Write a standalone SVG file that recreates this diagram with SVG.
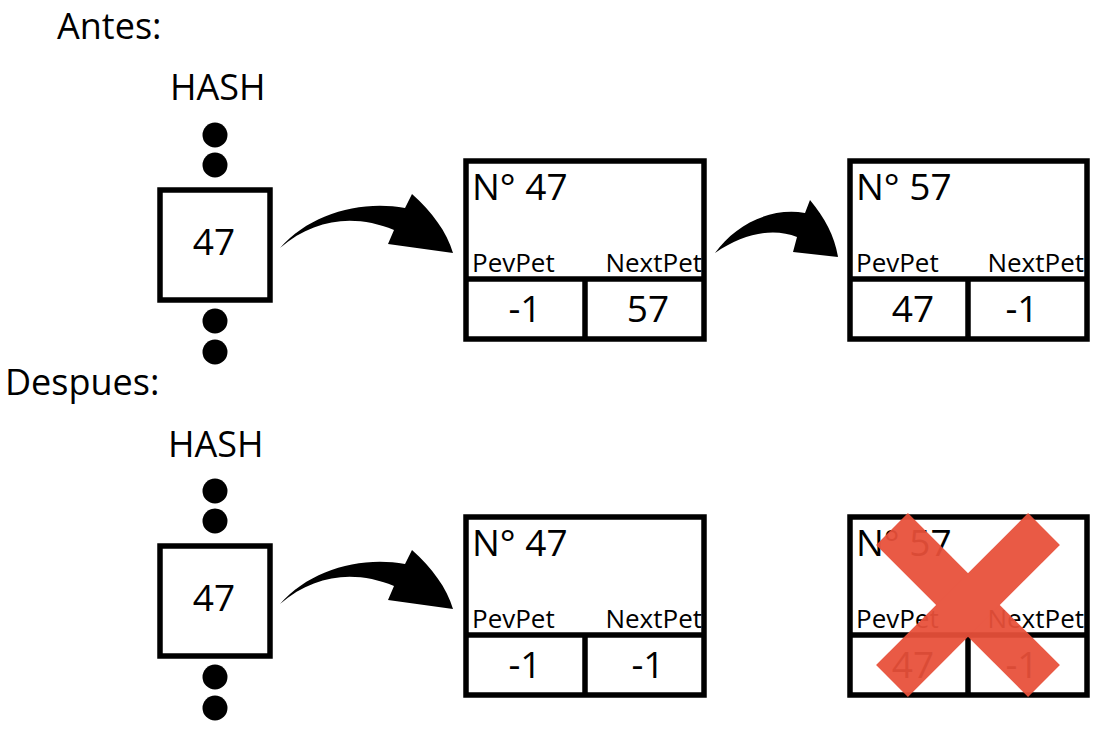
<svg xmlns="http://www.w3.org/2000/svg" width="1107" height="732" viewBox="0 0 1107 732">
<style>
text{font-family:"Open Sans","Liberation Sans",sans-serif;fill:#000}
.h{font-size:36px}
.t{font-size:37px}
.s{font-size:26px}
.m{text-anchor:middle}
.e{text-anchor:end}
.box{fill:#fff;stroke:#000;stroke-width:5.5}
.ln{stroke:#000;stroke-width:5.5;fill:none}
.arr{fill:#000}
</style>
<rect width="1107" height="732" fill="#fff"/>
<text class="h" x="57" y="39">Antes:</text>
<text class="h" x="5" y="395">Despues:</text>

<g id="hash1">
<text class="h" x="170" y="100">HASH</text>
<circle cx="215" cy="135" r="12.5"/>
<circle cx="215" cy="165" r="12.5"/>
<rect class="box" x="160" y="190" width="110" height="110"/>
<text class="t m" x="214" y="255">47</text>
<circle cx="215" cy="321" r="12.5"/>
<circle cx="215" cy="352" r="12.5"/>
</g>

<g id="node47a">
<rect class="box" x="466" y="161" width="238" height="178"/>
<line class="ln" x1="466" y1="279" x2="704" y2="279"/>
<line class="ln" x1="585" y1="279" x2="585" y2="339"/>
<text class="t" x="472" y="200">N° 47</text>
<text class="s" x="472" y="272">PevPet</text>
<text class="s e" x="702" y="272">NextPet</text>
<text class="t m" x="525" y="322">-1</text>
<text class="t m" x="648" y="322">57</text>
</g>

<g id="node57a">
<rect class="box" x="850" y="161" width="237" height="178"/>
<line class="ln" x1="850" y1="279" x2="1087" y2="279"/>
<line class="ln" x1="968" y1="279" x2="968" y2="339"/>
<text class="t" x="856" y="200">N° 57</text>
<text class="s" x="856" y="272">PevPet</text>
<text class="s e" x="1084" y="272">NextPet</text>
<text class="t m" x="913" y="322">47</text>
<text class="t m" x="1022" y="322">-1</text>
</g>

<g id="hash2">
<text class="h" x="168" y="457">HASH</text>
<circle cx="215" cy="491" r="12.5"/>
<circle cx="215" cy="521" r="12.5"/>
<rect class="box" x="160" y="546" width="110" height="110"/>
<text class="t m" x="214" y="611">47</text>
<circle cx="215" cy="677" r="12.5"/>
<circle cx="215" cy="708" r="12.5"/>
</g>

<g id="node47b">
<rect class="box" x="466" y="517" width="238" height="178"/>
<line class="ln" x1="466" y1="635" x2="704" y2="635"/>
<line class="ln" x1="585" y1="635" x2="585" y2="695"/>
<text class="t" x="472" y="556">N° 47</text>
<text class="s" x="472" y="628">PevPet</text>
<text class="s e" x="702" y="628">NextPet</text>
<text class="t m" x="525" y="678">-1</text>
<text class="t m" x="648" y="678">-1</text>
</g>

<g id="node57b">
<rect class="box" x="850" y="517" width="237" height="178"/>
<line class="ln" x1="850" y1="635" x2="1087" y2="635"/>
<line class="ln" x1="968" y1="635" x2="968" y2="695"/>
<text class="t" x="856" y="556">N° 57</text>
<text class="s" x="856" y="628">PevPet</text>
<text class="s e" x="1084" y="628">NextPet</text>
<text class="t m" x="913" y="678">47</text>
<text class="t m" x="1022" y="678">-1</text>
</g>

<g id="cross" opacity="0.94">
<line x1="892" y1="529" x2="1044" y2="681" stroke="#e8503a" stroke-width="45"/>
<line x1="1044" y1="529" x2="892" y2="681" stroke="#e8503a" stroke-width="45"/>
</g>

<g id="connectors">
<path class="arr" d="M280,248 C310,214 360,200 405,208 L412,194 C432,212 447,232 453,253 L388,244 L394,230 C355,214 315,218 280,248 Z"/>
<path class="arr" d="M715,253 C735,225 770,207 805,213 L810,200 C825,218 835,237 838,257 L793,252 L797,237 C775,228 745,232 715,253 Z"/>
<path class="arr" transform="translate(0,356)" d="M280,248 C310,214 360,200 405,208 L412,194 C432,212 447,232 453,253 L388,244 L394,230 C355,214 315,218 280,248 Z"/>
</g>
</svg>
